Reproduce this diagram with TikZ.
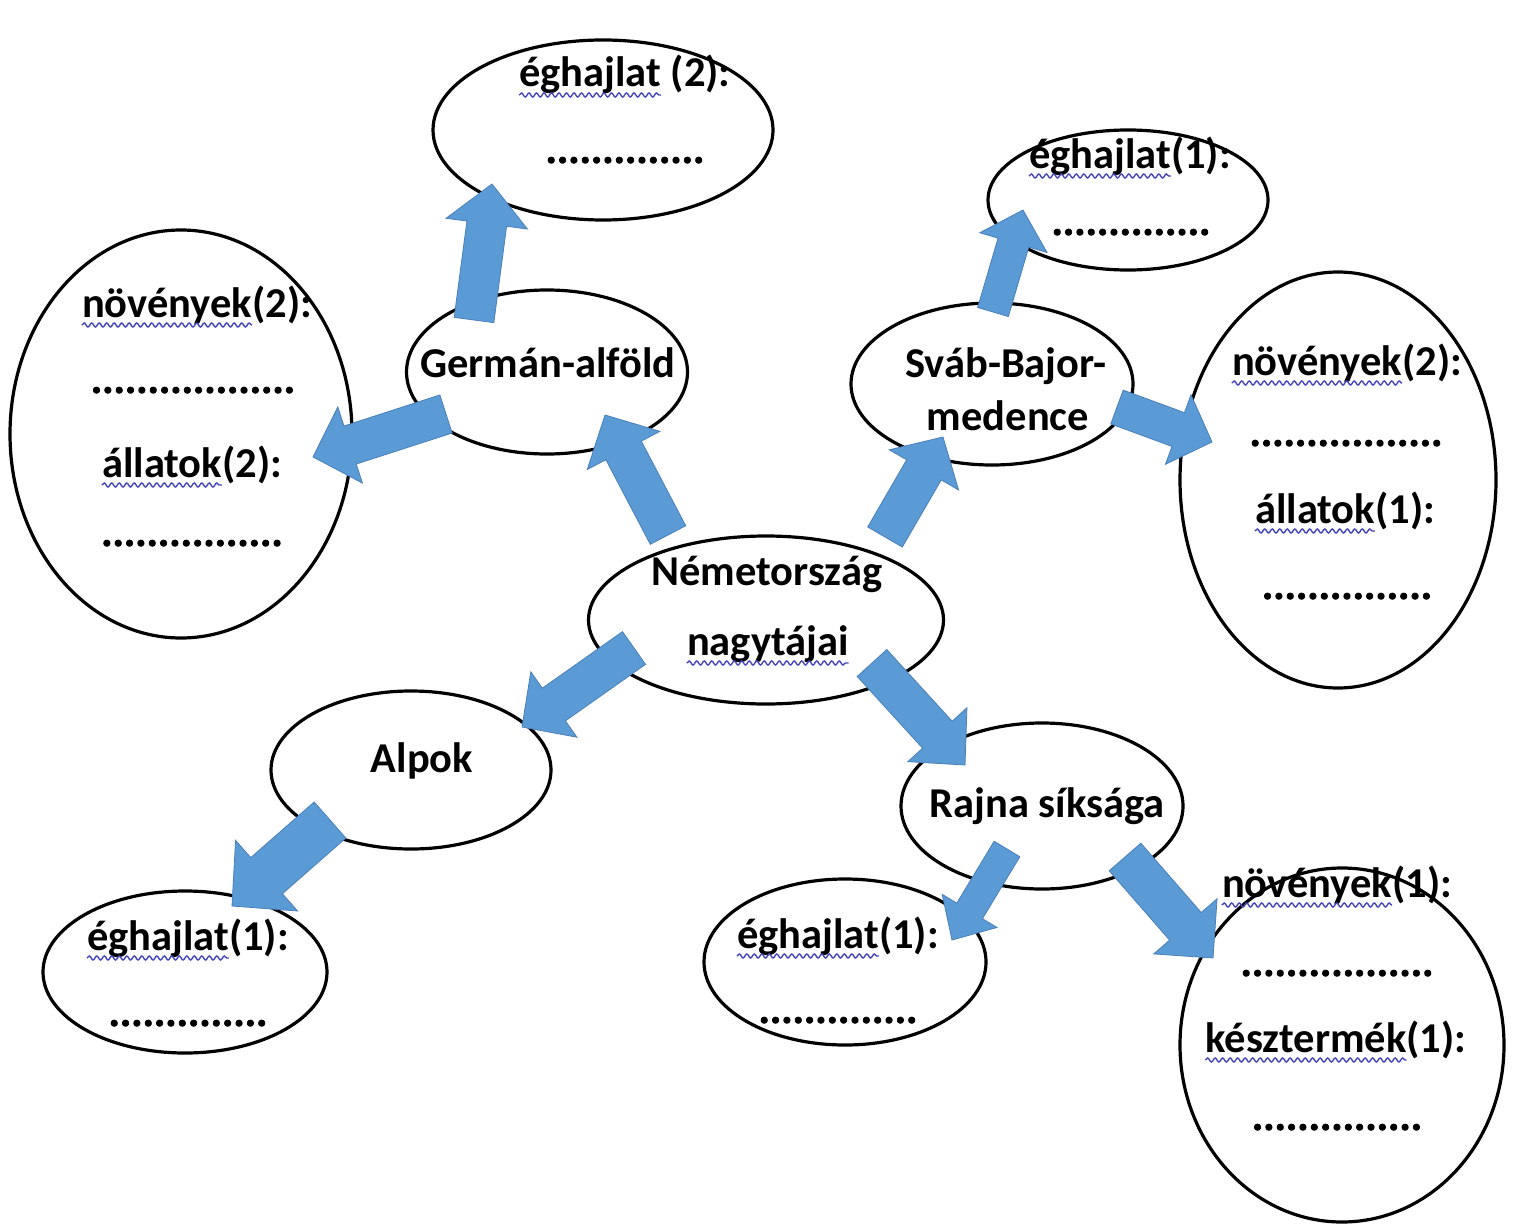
\documentclass[tikz,border=0pt]{standalone}
\usepackage{fontspec}
\setmainfont{Carlito}
\newfontfamily\heavydots[FakeBold=1.6]{Carlito Bold}
\usetikzlibrary{shapes.geometric,calc,decorations.pathmorphing}
\definecolor{arrowblue}{HTML}{5B9BD5}
\definecolor{arrowedge}{HTML}{4A7FB8}
\definecolor{wavecol}{HTML}{4545BE}
\newlength\wvlen
\newcommand\lblfont{\bfseries\fontsize{42.5}{50}\selectfont}
\newcommand\dotsfont{\heavydots\fontsize{42.5}{50}\selectfont}
% measure a misspelled word while it is typeset
\newcommand\sw[1]{\setbox0=\hbox{#1}\global\wvlen=\wd0\relax\box0\relax}
\newcommand\blockarrow[5]{%
  \coordinate (hb) at ($(#2)!#5!(#1)$);
  \filldraw[blockarr] ($(#1)!#3!90:(#2)$) -- ($(hb)!#3!90:(#2)$) -- ($(hb)!#4!90:(#2)$) -- (#2)
     -- ($(hb)!#4!-90:(#2)$) -- ($(hb)!#3!-90:(#2)$) -- ($(#1)!#3!-90:(#2)$) -- cycle;}
\newcommand\spellwave[1]{%
  \draw[wavy] ([yshift=-8pt]#1.base west) -- ++(\wvlen,0);}
\begin{document}
\begin{tikzpicture}[x=1pt,y=-1pt,
  ell/.style={draw=black, line width=3.2pt, ellipse, inner sep=0pt},
  lbl/.style={font=\lblfont, inner sep=0pt, anchor=base, text=black},
  dotline/.style={font=\dotsfont, inner sep=0pt, anchor=base, text=black},
  blockarr/.style={fill=arrowblue, draw=arrowedge, line width=0.8pt, line join=miter},
  wavy/.style={draw=wavecol, line width=1.4pt, decorate, decoration={snake, amplitude=2pt, segment length=7.5pt}}]
\fill[white] (0,0) rectangle (1514,1225);
\useasboundingbox (0,0) rectangle (1514,1225);

% ellipses
\node[ell, minimum width=340pt, minimum height=180pt] (e1) at (603,130) {};
\node[ell, minimum width=280pt, minimum height=140pt] (e2) at (1128,200) {};
\node[ell, minimum width=342pt, minimum height=408pt] (e3) at (181,434) {};
\node[ell, minimum width=281pt, minimum height=164pt] (e4) at (547,372) {};
\node[ell, minimum width=282pt, minimum height=162pt] (e5) at (992,384) {};
\node[ell, minimum width=316pt, minimum height=416pt] (e6) at (1338,480) {};
\node[ell, minimum width=355pt, minimum height=168pt] (e7) at (766,620) {};
\node[ell, minimum width=280pt, minimum height=158pt] (e8) at (411,770) {};
\node[ell, minimum width=282pt, minimum height=166pt] (e9) at (1042,806) {};
\node[ell, minimum width=284pt, minimum height=162pt] (e10) at (185,972) {};
\node[ell, minimum width=282pt, minimum height=166pt] (e11) at (845,962) {};
\node[ell, minimum width=324pt, minimum height=354pt] (e12) at (1342,1045) {};

% arrow ends
\coordinate (a1s) at (474,320);  \coordinate (a1e) at (492,184);
\coordinate (a2s) at (446,414);  \coordinate (a2e) at (313,457);
\coordinate (a3s) at (668,535);  \coordinate (a3e) at (605,415);
\coordinate (a4s) at (885,537);  \coordinate (a4e) at (943,437);
\coordinate (a5s) at (993,312);  \coordinate (a5e) at (1023,210);
\coordinate (a6s) at (1117,407); \coordinate (a6e) at (1212,442);
\coordinate (a7s) at (634,648);  \coordinate (a7e) at (522,727);
\coordinate (a8s) at (872,663);  \coordinate (a8e) at (965,765);
\coordinate (a9s) at (330,820);  \coordinate (a9e) at (232,906);
\coordinate (a10s) at (1007,849); \coordinate (a10e) at (952,940);
\coordinate (a11s) at (1125,857); \coordinate (a11e) at (1213,958);

\blockarrow{a1s}{a1e}{20pt}{41pt}{40pt}
\blockarrow{a2s}{a2e}{20pt}{40pt}{39pt}
\blockarrow{a3s}{a3e}{20pt}{41pt}{40pt}
\blockarrow{a4s}{a4e}{20pt}{40pt}{38pt}
\blockarrow{a5s}{a5e}{16pt}{35pt}{34pt}
\blockarrow{a6s}{a6e}{18pt}{37pt}{36pt}
\blockarrow{a7s}{a7e}{20pt}{40pt}{39pt}
\blockarrow{a8s}{a8e}{20pt}{40pt}{41pt}
\blockarrow{a9s}{a9e}{24pt}{47pt}{46pt}
\blockarrow{a10s}{a10e}{15pt}{32pt}{34pt}
\blockarrow{a11s}{a11e}{21pt}{42pt}{42pt}

% texts
\node[lbl] (t1a) at (625,87) {\sw{éghajlat} (2):}; \spellwave{t1a}
\node[dotline] (t1b) at (625,163) {..............};
\node[lbl] (t2a) at (1130,168) {\sw{éghajlat}(1):}; \spellwave{t2a}
\node[dotline] (t2b) at (1131,235) {..............};
\node[lbl] (t3a) at (197,317) {\sw{növények}(2):}; \spellwave{t3a}
\node[dotline] (t3b) at (193,393) {..................};
\node[lbl] (t3c) at (192,477) {\sw{állatok}(2):}; \spellwave{t3c}
\node[dotline] (t3d) at (192,546) {................};
\node[lbl] (t4) at (548,377) {Germán-alföld};
\node[lbl] (t5a) at (1006,377) {Sváb-Bajor-};
\node[lbl] (t5b) at (1008,430) {medence};
\node[lbl] (t6a) at (1347,375) {\sw{növények}(2):}; \spellwave{t6a}
\node[dotline] (t6b) at (1346,446) {.................};
\node[lbl] (t6c) at (1345,523) {\sw{állatok}(1):}; \spellwave{t6c}
\node[dotline] (t6d) at (1347,599) {...............};
\node[lbl] (t7a) at (767,585) {Németország};
\node[lbl] (t7b) at (768,655) {\sw{nagytájai}}; \spellwave{t7b}
\node[lbl] (t8) at (422,772) {Alpok};
\node[lbl] (t9) at (1047,817) {Rajna síksága};
\node[lbl] (t10a) at (188,950) {\sw{éghajlat}(1):}; \spellwave{t10a}
\node[dotline] (t10b) at (188,1026) {..............};
\node[lbl] (t11a) at (838,948) {\sw{éghajlat}(1):}; \spellwave{t11a}
\node[dotline] (t11b) at (838,1023) {..............};
\node[lbl] (t12a) at (1337,897) {\sw{növények}(1):}; \spellwave{t12a}
\node[dotline] (t12b) at (1337,976) {.................};
\node[lbl] (t12c) at (1336,1052) {\sw{késztermék}(1):}; \spellwave{t12c}
\node[dotline] (t12d) at (1337,1130) {...............};
\end{tikzpicture}
\end{document}
